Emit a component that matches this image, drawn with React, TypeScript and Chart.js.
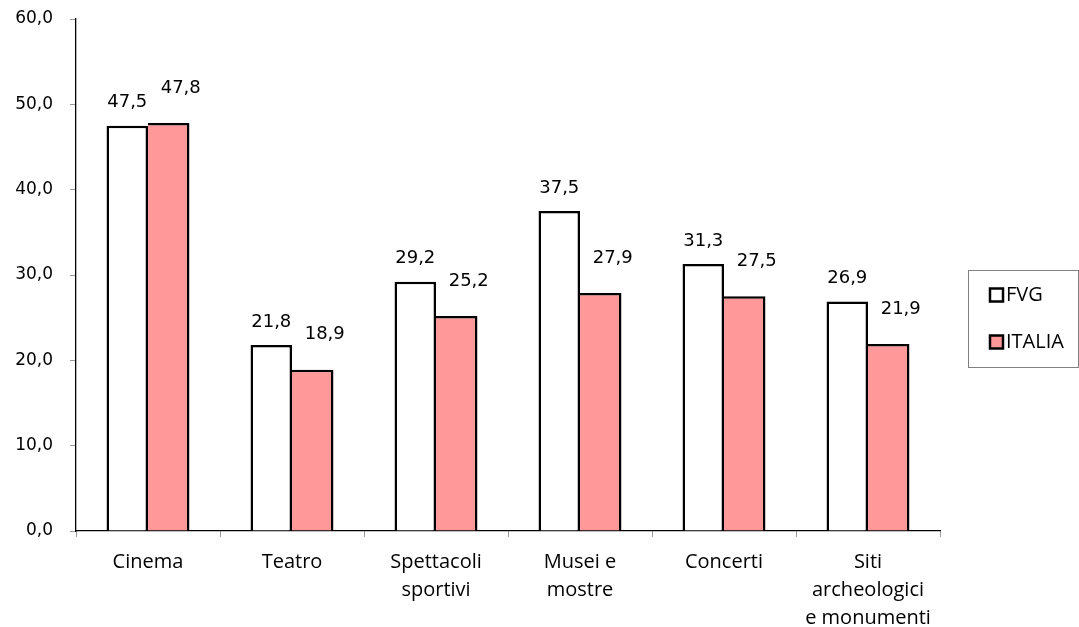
import React, { useEffect, useRef } from "react";
import { Chart, registerables } from "chart.js";

Chart.register(...registerables);

const categories: (string | string[])[] = [
  "Cinema",
  "Teatro",
  ["Spettacoli", "sportivi"],
  ["Musei e", "mostre"],
  "Concerti",
  ["Siti", "archeologici", "e monumenti"],
];
const fvgValues = [47.5, 21.8, 29.2, 37.5, 31.3, 26.9];
const italiaValues = [47.8, 18.9, 25.2, 27.9, 27.5, 21.9];
const seriesNames = ["FVG", "ITALIA"];
const seriesColors = ["#FFFFFF", "#FF9999"];
const yMin = 0;
const yMax = 60;
const yStep = 10;

const fmt = (v: number) => v.toFixed(1).replace(".", ",");

const labelPlugin = {
  id: "valueLabels",
  afterDatasetsDraw(chart: any) {
    const ctx = chart.ctx;
    ctx.save();
    ctx.font = "18px 'DejaVu Sans'";
    ctx.fillStyle = "#000";
    ctx.textAlign = "center";
    ctx.textBaseline = "middle";
    chart.data.datasets.forEach((ds: any, di: number) => {
      const meta = chart.getDatasetMeta(di);
      meta.data.forEach((el: any, i: number) => {
        const lift = di === 0 ? 23 : 35;
        const dx = di === 0 ? 0 : 12;
        ctx.fillText(fmt(ds.data[i]), el.x + dx, el.y - lift);
      });
    });
    ctx.restore();
  },
};

const legendPlugin = {
  id: "boxLegend",
  afterDraw(chart: any) {
    const ctx = chart.ctx;
    ctx.save();
    const bx = 968.5, by = 270.5, bw = 110, bh = 97;
    ctx.strokeStyle = "#808080";
    ctx.lineWidth = 1;
    ctx.strokeRect(bx, by, bw, bh);
    ctx.font = "20px 'Open Sans'";
    ctx.textBaseline = "middle";
    ctx.textAlign = "left";
    chart.data.datasets.forEach((ds: any, i: number) => {
      const cy = 295 + i * 47;
      ctx.fillStyle = ds.backgroundColor;
      ctx.fillRect(990, cy - 6.5, 13, 13);
      ctx.strokeStyle = "#000";
      ctx.lineWidth = 2.5;
      ctx.strokeRect(990, cy - 6.5, 13, 13);
      ctx.fillStyle = "#000";
      ctx.fillText(ds.label, 1006, cy);
    });
    ctx.restore();
  },
};

export default function App() {
  const ref = useRef<HTMLCanvasElement>(null);
  useEffect(() => {
    if (!ref.current) return;
    const chart = new Chart(ref.current, {
      type: "bar",
      data: {
        labels: categories,
        datasets: [
          {
            label: seriesNames[0],
            data: fvgValues,
            backgroundColor: seriesColors[0],
            borderColor: "#000",
            borderWidth: { top: 2.5, left: 2.5, right: 2.5, bottom: 0 },
            borderSkipped: false,
            categoryPercentage: 0.576,
            barPercentage: 1,
          },
          {
            label: seriesNames[1],
            data: italiaValues,
            backgroundColor: seriesColors[1],
            borderColor: "#000",
            borderWidth: { top: 2.5, left: 0, right: 2.5, bottom: 0 },
            borderSkipped: false,
            categoryPercentage: 0.576,
            barPercentage: 1,
          },
        ],
      },
      options: {
        animation: false,
        responsive: false,
        maintainAspectRatio: false,
        layout: { padding: { top: 19, right: 139, bottom: 0, left: 0 } },
        plugins: {
          legend: { display: false },
          tooltip: { enabled: false },
        },
        scales: {
          x: {
            grid: {
              display: true,
              drawOnChartArea: false,
              drawTicks: true,
              tickLength: 6,
              color: "#999",
              offset: true,
            },
            border: { display: true, color: "#000", width: 1.3 },
            ticks: {
              color: "#000",
              font: { family: "'Open Sans'", size: 20, lineHeight: 1.4 },
              padding: 11,
              maxRotation: 0,
              autoSkip: false,
            },
            afterFit: (s: any) => {
              s.height = 96;
              s.paddingLeft = 0;
              s.paddingRight = 0;
            },
          },
          y: {
            min: yMin,
            max: yMax,
            grid: {
              display: true,
              drawOnChartArea: false,
              drawTicks: true,
              tickLength: 6,
              color: "#999",
            },
            border: { display: true, color: "#000", width: 1.3 },
            ticks: {
              stepSize: yStep,
              color: "#000",
              font: { family: "'DejaVu Sans'", size: 17 },
              padding: 17,
              callback: (v: any) => fmt(Number(v)),
            },
            afterFit: (s: any) => {
              s.width = 76;
              s.paddingTop = 0;
              s.paddingBottom = 0;
            },
          },
        },
      },
      plugins: [labelPlugin, legendPlugin],
    });
    return () => chart.destroy();
  }, []);
  return (
    <div style={{ position: "fixed", left: 0, top: 0, width: 1079, height: 627, background: "#fff" }}>
      <canvas ref={ref} width={1079} height={627} style={{ width: 1079, height: 627 }} />
    </div>
  );
}
